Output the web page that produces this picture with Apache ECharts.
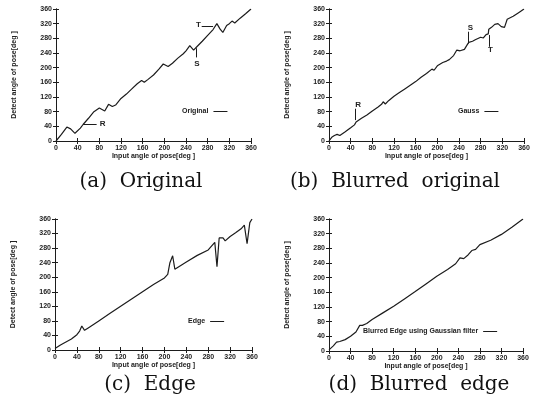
<!DOCTYPE html>
<html>
<head>
<meta charset="utf-8">
<script src="https://cdn.jsdelivr.net/npm/echarts@6/dist/echarts.min.js"></script>
<style>
  html, body { margin: 0; padding: 0; background: #fff; }
  #chart { width: 539px; height: 403px; }
</style>
</head>
<body>
<div id="chart"></div>
<script>
// input angle / detected angle
const xOriginal = [0, 10, 20, 27, 35, 45, 50, 60, 70, 80, 90, 97, 104, 110, 120, 130, 140, 150, 158, 163, 170, 180, 190, 198, 207, 215, 225, 235, 240, 247, 254, 260, 270, 280, 290, 297, 303, 308, 315, 320, 325, 330, 340, 350, 360];
const yOriginal = [0, 18, 38, 33, 21, 35, 45, 62, 80, 90, 82, 100, 94, 98, 116, 128, 142, 156, 165, 160, 168, 180, 196, 210, 203, 212, 226, 238, 246, 260, 248, 257, 272, 288, 304, 320, 305, 296, 315, 320, 327, 322, 335, 347, 360];

const xGauss = [0, 5, 10, 15, 20, 30, 40, 47, 50, 60, 70, 80, 90, 97, 100, 104, 110, 120, 130, 140, 150, 160, 170, 180, 190, 194, 200, 210, 217, 222, 230, 236, 242, 250, 255, 258, 265, 270, 280, 285, 290, 294, 295, 300, 306, 312, 318, 324, 329, 340, 350, 360];
const yGauss = [0, 10, 15, 18, 15, 25, 36, 44, 52, 62, 71, 82, 92, 100, 107, 101, 110, 122, 132, 142, 152, 162, 174, 184, 196, 193, 205, 214, 218, 222, 233, 248, 246, 250, 262, 269, 272, 276, 283, 281, 290, 292, 305, 310, 318, 320, 312, 310, 332, 340, 350, 360];

const xEdge = [0, 10, 20, 30, 40, 45, 49, 54, 60, 80, 100, 120, 140, 160, 180, 200, 206, 210, 215, 219, 222, 240, 260, 280, 292, 296, 300, 303, 307, 311, 320, 330, 340, 346, 351, 356, 360];
const yEdge = [4, 14, 22, 30, 42, 52, 66, 54, 60, 80, 100, 120, 140, 160, 180, 198, 208, 240, 259, 222, 222, 242, 260, 275, 296, 229, 308, 312, 308, 300, 312, 322, 333, 343, 292, 350, 360];

const xBlurEdge = [0, 8, 14, 20, 30, 40, 50, 57, 62, 70, 80, 100, 120, 140, 160, 180, 200, 220, 235, 243, 250, 258, 265, 272, 280, 300, 320, 340, 360];
const yBlurEdge = [3, 14, 24, 26, 31, 40, 52, 70, 70, 75, 86, 104, 122, 142, 162, 183, 204, 222, 238, 254, 252, 262, 274, 277, 290, 302, 318, 338, 360];

const seriesNames = ['Original', 'Gauss', 'Edge', 'Blurred Edge using Gaussian filter'];
const captions = ['(a)  Original', '(b)  Blurred  original', '(c)  Edge', '(d)  Blurred  edge'];
const axisTicks = [0, 40, 80, 120, 160, 200, 240, 280, 320, 360];

// annotation arrows (R, S, T) in data coordinates: [x1, y1, x2, y2]
const notesA = [[50, 46, 75, 46], [258, 253, 258, 228], [269, 314, 290, 314]];
const notesB = [[49, 88, 49, 57], [257, 298, 257, 266], [295, 289, 295, 257]];
const labelsA = [['R', 86, 46], ['S', 260, 210], ['T', 263, 316]];
const labelsB = [['R', 54, 98], ['S', 261, 310], ['T', 298, 250]];

const pairs = (xs, ys) => xs.map((x, i) => [x, ys[i]]);
const seriesData = [
    pairs(xOriginal, yOriginal),
    pairs(xGauss, yGauss),
    pairs(xEdge, yEdge),
    pairs(xBlurEdge, yBlurEdge)
];

const grids = [
    { left: 56, top: 9, width: 195, height: 132 },
    { left: 329, top: 9, width: 195, height: 132 },
    { left: 55, top: 219, width: 197, height: 131 },
    { left: 329, top: 219, width: 194, height: 132 }
];
const legendPos = [
    { left: 182, top: 108 },
    { left: 458, top: 108 },
    { left: 188, top: 318 },
    { left: 363, top: 328 }
];
const captionPos = [[141, 182], [395, 182], [150, 385], [419, 385]];

const ink = '#1c1c1c';
const smallFont = { fontFamily: 'Liberation Sans', fontSize: 7, fontWeight: 'bold', color: '#222' };

const axisBase = (gridIndex, position, showLabel) => ({
    gridIndex: gridIndex,
    type: 'value',
    position: position,
    min: axisTicks[0],
    max: axisTicks[axisTicks.length - 1],
    interval: 40,
    axisLine: { show: true, lineStyle: { color: ink, width: 1 } },
    axisTick: { show: true, inside: true, length: 3, lineStyle: { color: ink } },
    axisLabel: Object.assign({ show: showLabel, margin: 4 }, smallFont),
    splitLine: { show: false }
});

const xAxes = [];
const yAxes = [];
grids.forEach((g, i) => {
    xAxes.push(Object.assign(axisBase(i, 'bottom', true), {
        name: 'Input angle of pose[deg ]',
        nameLocation: 'middle',
        nameGap: 11,
        nameTextStyle: smallFont
    }));
    xAxes.push(axisBase(i, 'top', false));
    yAxes.push(Object.assign(axisBase(i, 'left', true), {
        name: 'Detect angle of pose[deg ]',
        nameLocation: 'middle',
        nameGap: 38,
        nameTextStyle: smallFont
    }));
    yAxes.push(axisBase(i, 'right', false));
});

const noteLines = (notes) => ({
    silent: true,
    symbol: ['none', 'none'],
    label: { show: false },
    lineStyle: { color: ink, width: 1, type: 'solid' },
    emphasis: { disabled: true },
    data: notes.map(n => [{ coord: [n[0], n[1]] }, { coord: [n[2], n[3]] }])
});
const noteLabels = (labels) => ({
    silent: true,
    symbol: 'rect',
    symbolSize: 1,
    itemStyle: { color: 'rgba(0,0,0,0)' },
    label: Object.assign({ show: true, position: 'inside', formatter: '{b}' }, smallFont, { fontSize: 8 }),
    data: labels.map(l => ({ name: l[0], coord: [l[1], l[2]] }))
});

const series = seriesData.map((d, i) => {
    const s = {
        name: seriesNames[i],
        type: 'line',
        xAxisIndex: 2 * i,
        yAxisIndex: 2 * i,
        data: d,
        showSymbol: false,
        symbol: 'none',
        lineStyle: { color: ink, width: 1.2 },
        itemStyle: { color: ink }
    };
    if (i === 0) { s.markLine = noteLines(notesA); s.markPoint = noteLabels(labelsA); }
    if (i === 1) { s.markLine = noteLines(notesB); s.markPoint = noteLabels(labelsB); }
    return s;
});

const legends = seriesNames.map((n, i) => ({
    data: [n],
    left: legendPos[i].left,
    top: legendPos[i].top,
    align: 'right',
    padding: 0,
    icon: 'rect',
    itemWidth: 14,
    itemHeight: 1,
    selectedMode: false,
    textStyle: smallFont
}));

const myChart = echarts.init(document.getElementById('chart'), null, { renderer: 'canvas' });

const option = {
    backgroundColor: '#fff',
    animation: false,
    grid: grids.map(g => Object.assign({ containLabel: false, outerBoundsMode: 'none' }, g)),
    xAxis: xAxes,
    yAxis: yAxes,
    legend: legends,
    series: series,
    graphic: captions.map((c, i) => ({
        type: 'text',
        x: captionPos[i][0],
        y: captionPos[i][1],
        style: {
            text: c,
            fill: '#111',
            font: '20px "DejaVu Serif"',
            textAlign: 'center',
            textVerticalAlign: 'middle'
        }
    }))
};

myChart.setOption(option);
</script>
</body>
</html>
